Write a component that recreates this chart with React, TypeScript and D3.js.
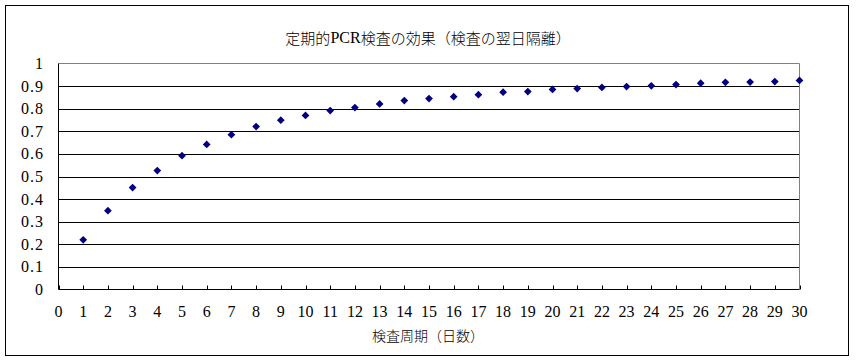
import React from "react";
import * as d3 from "d3";

const days: number[] = Array.from({ length: 30 }, (_, i) => i + 1);
const effect: number[] = [
  0.22, 0.349, 0.451, 0.526, 0.592, 0.642, 0.685, 0.721, 0.749, 0.77,
  0.792, 0.805, 0.821, 0.836, 0.845, 0.853, 0.862, 0.873, 0.876, 0.885,
  0.889, 0.894, 0.898, 0.901, 0.907, 0.913, 0.917, 0.918, 0.92, 0.925,
];
const yTicks: number[] = [0, 0.1, 0.2, 0.3, 0.4, 0.5, 0.6, 0.7, 0.8, 0.9, 1];
const xTicks: number[] = d3.range(0, 31);
const titleParts: string[] = ["定期的", "PCR", "検査の効果（検査の翌日隔離）"];
const xTitle = "検査周期（日数）";

const W = 858;
const H = 361;
const plot = { left: 58.5, right: 799.5, top: 63.5, bottom: 289.5 };

export default function App() {
  const x = d3.scaleLinear().domain([0, 30]).range([plot.left, plot.right]);
  const y = d3.scaleLinear().domain([0, 1]).range([plot.bottom, plot.top]);
  const diamond = d3.symbol().type(d3.symbolSquare).size(30)() as string;
  const numFont = "'Liberation Serif', 'DejaVu Serif', serif";
  const cjkFont = "'Noto Sans CJK JP', sans-serif";

  return (
    <svg
      width={W}
      height={H}
      style={{ position: "absolute", left: 0, top: 0, display: "block", background: "#fff" }}
    >
      <rect x={5.5} y={5.5} width={843} height={350} fill="#fff" stroke="#000" strokeWidth={1} />
      <text
        x={428}
        y={37}
        textAnchor="middle"
        dominantBaseline="central"
        fontFamily={cjkFont}
        fontSize={15}
        fontWeight={300}
        fill="#000"
      >
        <tspan>{titleParts[0]}</tspan>
        <tspan fontFamily={numFont} fontSize={16}>{titleParts[1]}</tspan>
        <tspan>{titleParts[2]}</tspan>
      </text>
      {yTicks.filter((t) => t > 0 && t < 1).map((t) => (
        <line key={"g" + t} x1={plot.left} x2={plot.right} y1={Math.round(y(t)) + 0.5} y2={Math.round(y(t)) + 0.5} stroke="#000" strokeWidth={1} />
      ))}
      <line x1={plot.left} x2={plot.right} y1={plot.top} y2={plot.top} stroke="#808080" strokeWidth={1} />
      <line x1={plot.right} x2={plot.right} y1={plot.top} y2={plot.bottom} stroke="#808080" strokeWidth={1} />
      <line x1={plot.left} x2={plot.left} y1={plot.top} y2={plot.bottom} stroke="#000" strokeWidth={1} />
      <line x1={plot.left} x2={plot.right} y1={plot.bottom} y2={plot.bottom} stroke="#000" strokeWidth={1} />
      {xTicks.map((t) => (
        <line key={"xt" + t} x1={Math.round(x(t)) + 0.5} x2={Math.round(x(t)) + 0.5} y1={plot.bottom} y2={plot.bottom - 4} stroke="#000" strokeWidth={1} />
      ))}
      {xTicks.map((t) => (
        <text key={"xl" + t} x={x(t)} y={317} textAnchor="middle" fontFamily={numFont} fontSize={16} fill="#000">
          {t}
        </text>
      ))}
      {yTicks.map((t) => (
        <text key={"yl" + t} x={44} y={y(t) + 5.5} textAnchor="end" fontFamily={numFont} fontSize={16} letterSpacing={1} fill="#000">
          {String(t)}
        </text>
      ))}
      <text x={428} y={335} textAnchor="middle" dominantBaseline="central" fontFamily={cjkFont} fontSize={14} fontWeight={300} fill="#000">
        {xTitle}
      </text>
      {days.map((d, i) => (
        <path
          key={"p" + d}
          d={diamond}
          transform={`translate(${x(d)},${y(effect[i])}) rotate(45)`}
          fill="#000080"
        />
      ))}
    </svg>
  );
}
